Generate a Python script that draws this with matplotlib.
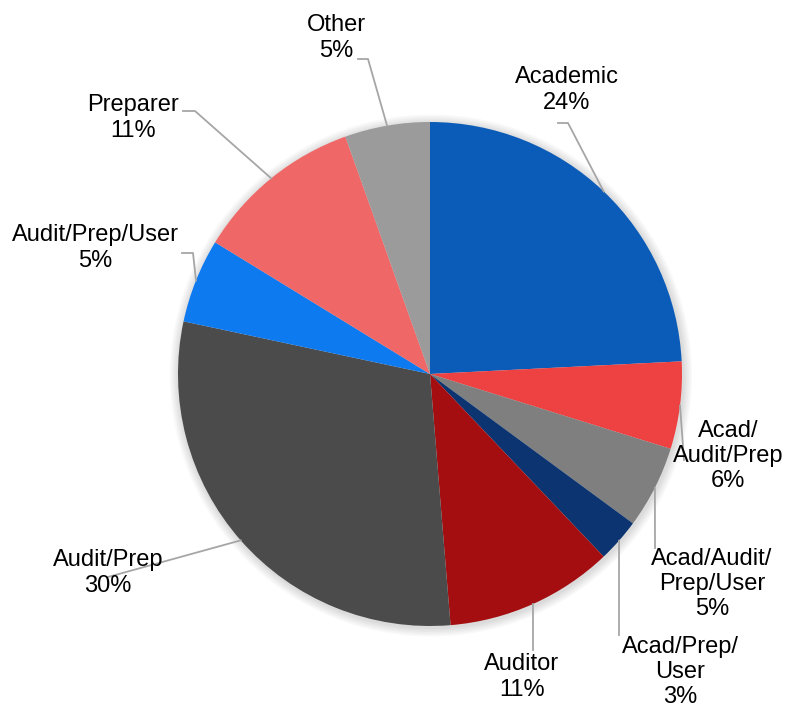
import matplotlib
matplotlib.use("Agg")
import matplotlib.pyplot as plt
import numpy as np

# share of respondents by role (percent)
categories = ["Academic", "Acad/\nAudit/Prep", "Acad/Audit/\nPrep/User", "Acad/Prep/\nUser",
              "Auditor", "Audit/Prep", "Audit/Prep/User", "Preparer", "Other"]
shares = [24.2, 5.6, 5.3, 2.8, 10.8, 29.65, 5.4, 10.8, 5.45]
colors = ["#0B5CB9", "#EE4242", "#7F7F7F", "#0B3470", "#A50E10",
          "#4B4B4B", "#0E7AEF", "#F06767", "#9B9B9B"]

# layout (pixels in the 793x708 canvas): pie centre/radius, label centres, leader elbows
CX, CY, R = 430, 374, 252
label_pos = [(567, 90), (728, 456), (712, 584), (680, 672), (522, 677),
             (108, 573), (95, 248), (133, 118), (336, 38)]
elbows = [[(568, 123), (558, 123)], [(684, 460)], [(655, 548)], [(619, 635)],
          [(533, 650)], [(108, 577)], [(193, 253), (182, 253)],
          [(195, 111), (183, 111)], [(368, 59), (358, 59)]]

W, H = 793, 708
fig = plt.figure(figsize=(W / 100, H / 100), dpi=100)
ax = fig.add_axes([0, 0, 1, 1])


def px(p):
    return ((p[0] - CX) / R, (CY - p[1]) / R)


# soft shadow around the pie
for k in range(6):
    ax.add_patch(plt.Circle((0.004, -0.006), 1.0 + 0.006 * (k + 1), color="black",
                            alpha=0.025, lw=0, zorder=0))

wedges, _ = ax.pie(shares, colors=colors, startangle=90, counterclock=False,
                   radius=1.0, wedgeprops=dict(linewidth=0))
ax.set_xlim(-CX / R, (W - CX) / R)
ax.set_ylim(-(H - CY) / R, CY / R)
ax.set_aspect("auto")
ax.axis("off")

total = sum(shares)
for w, name, v, lp, el in zip(wedges, categories, shares, label_pos, elbows):
    mid = np.deg2rad((w.theta1 + w.theta2) / 2)
    pts = [(np.cos(mid), np.sin(mid))] + [px(p) for p in el]
    xs, ys = zip(*pts)
    ax.plot(xs, ys, color="#A6A6A6", lw=1.3, zorder=3, clip_on=False)
    x, y = px(lp)
    ax.text(x, y, f"{name}\n{round(100 * v / total):.0f}%", ha="center", va="center",
            fontsize=17, family=["Liberation Sans", "DejaVu Sans"], color="black",
            linespacing=1.2, zorder=4)

fig.savefig("out.png", dpi=100, facecolor="white")
